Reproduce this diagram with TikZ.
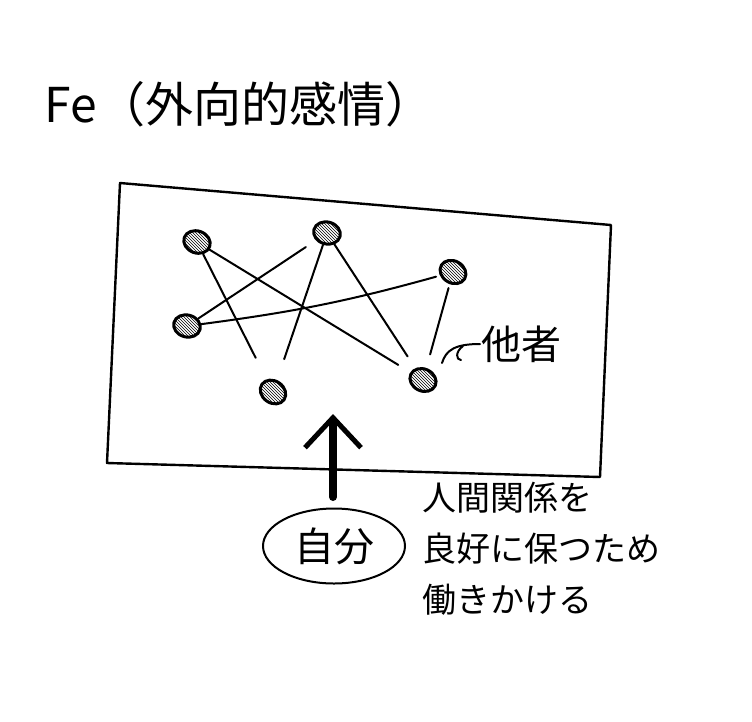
\documentclass[tikz,border=0pt]{standalone}
\usepackage{fontspec}
\setmainfont{Noto Sans CJK JP}
\usepackage{tikz}
\tikzset{
every picture/.style={line width=2pt, line cap=round, line join=round},
dot/.style={ellipse, draw, line width=3pt, minimum width=27pt, minimum height=22pt, inner sep=0pt, pattern=north west lines},
label/.style={inner sep=0pt, anchor=west}
}
\usetikzlibrary{shapes.geometric, patterns, arrows.meta}

\begin{document}
\begin{tikzpicture}[x=1pt, y=-1pt]
  \useasboundingbox (0,0) rectangle (752,721);
  \node[inner sep=0pt] (title) at (239,104) {\fontsize{48}{48}\selectfont Fe（外向的感情）};
  \draw[line width=2.4pt] (120,183) -- (611,225) -- (600,477) -- (107,463) -- cycle;
  \node[dot, rotate=-20] (a) at (197,242) {};
  \node[dot, rotate=-15] (b) at (327,233) {};
  \node[dot, rotate=-30] (c) at (453,272) {};
  \node[dot, rotate=-15] (d) at (187,326) {};
  \node[dot, rotate=-35] (e) at (273,392) {};
  \node[dot, rotate=-25] (f) at (423,380) {};
  \draw[shorten >=24pt] (a) -- (e);
  \draw[shorten >=14pt] (a) -- (f);
  \draw[shorten >=12pt] (d) -- (b);
  \draw[shorten >=4pt] (d) to[bend right=4] (c);
  \draw[shorten <=22pt] (e) -- (b);
  \draw[shorten >=14pt] (b) -- (f);
  \draw[shorten <=14pt, shorten >=4pt] (f) -- (c);
  \node[label] (other) at (480,344) {\fontsize{40}{40}\selectfont 他者};
  \coordinate (p) at (442,363);
  \draw (p) .. controls (446,350) and (455,344) .. (other.west);
  \draw (463,346) .. controls (455,352) and (456,360) .. (461,360);
  \node[ellipse, draw, minimum width=142pt, minimum height=75pt] (self) at (334,546) {\fontsize{40}{40}\selectfont 自分};
  \draw[line width=8pt, -{Straight Barb[length=30pt, width=56pt, line width=5pt]}] (333,497) -- (333,414);
  \node[label] (text) at (421,550) {\fontsize{34}{55}\selectfont
    \begin{tabular}{@{}l@{}}人間関係を\\[-4pt]良好に保つため\\[-4pt]働きかける\end{tabular}};
\end{tikzpicture}
\end{document}
